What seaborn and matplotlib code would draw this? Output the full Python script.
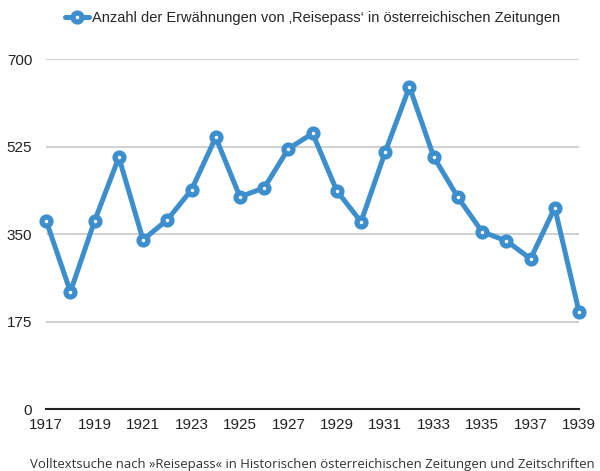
import pandas as pd
import seaborn as sns
import matplotlib.pyplot as plt

years = list(range(1917, 1940))
mentions = [377, 235, 377, 504, 339, 379, 439, 544, 425, 443, 521, 552,
            437, 375, 515, 645, 505, 424, 355, 337, 301, 403, 195]
y_ticks = [0, 175, 350, 525, 700]
x_ticks = list(range(1917, 1940, 2))

series_label = "Anzahl der Erwähnungen von \u201aReisepass\u2018 in österreichischen Zeitungen"
source_note = "Volltextsuche nach »Reisepass« in Historischen österreichischen Zeitungen und Zeitschriften"

df = pd.DataFrame({"Jahr": years, "Anzahl": mentions})

sns.set_theme(style="white")
plt.rcParams['font.family'] = ['Liberation Sans', 'DejaVu Sans']

fig = plt.figure(figsize=(6, 4.71), dpi=100)
ax = fig.add_axes([0.077, 0.131, 0.888, 0.743])

blue = "#3d8ecc"
sns.lineplot(data=df, x="Jahr", y="Anzahl", ax=ax, color=blue, linewidth=3.6,
             marker="o", markersize=6.4, markerfacecolor="white",
             markeredgecolor=blue, markeredgewidth=3.8,
             label=series_label, clip_on=False, zorder=3)

ax.set_xlim(1917, 1939)
ax.set_ylim(0, 700)
ax.set_xticks(x_ticks)
ax.set_yticks(y_ticks)
ax.set_xlabel("")
ax.set_ylabel("")
ax.grid(axis="y", color="#c8c8c8", linewidth=1.2)
ax.set_axisbelow(True)
for s in ["top", "right", "left"]:
    ax.spines[s].set_visible(False)
ax.spines["bottom"].set_color("#222222")
ax.spines["bottom"].set_linewidth(1.5)
ax.tick_params(axis="both", length=0, labelsize=11, colors="#222222")
ax.tick_params(axis="x", pad=6)
ax.tick_params(axis="y", pad=10)

ax.legend(loc="center", bbox_to_anchor=(0.5, 1.118), frameon=False,
          fontsize=10.5, handlelength=1.6, handletextpad=0.2)

fig.text(0.05, 0.006, source_note, fontsize=9.45, color="#333333",
         family=["Open Sans", "DejaVu Sans"])

fig.savefig("out.png", dpi=100)
